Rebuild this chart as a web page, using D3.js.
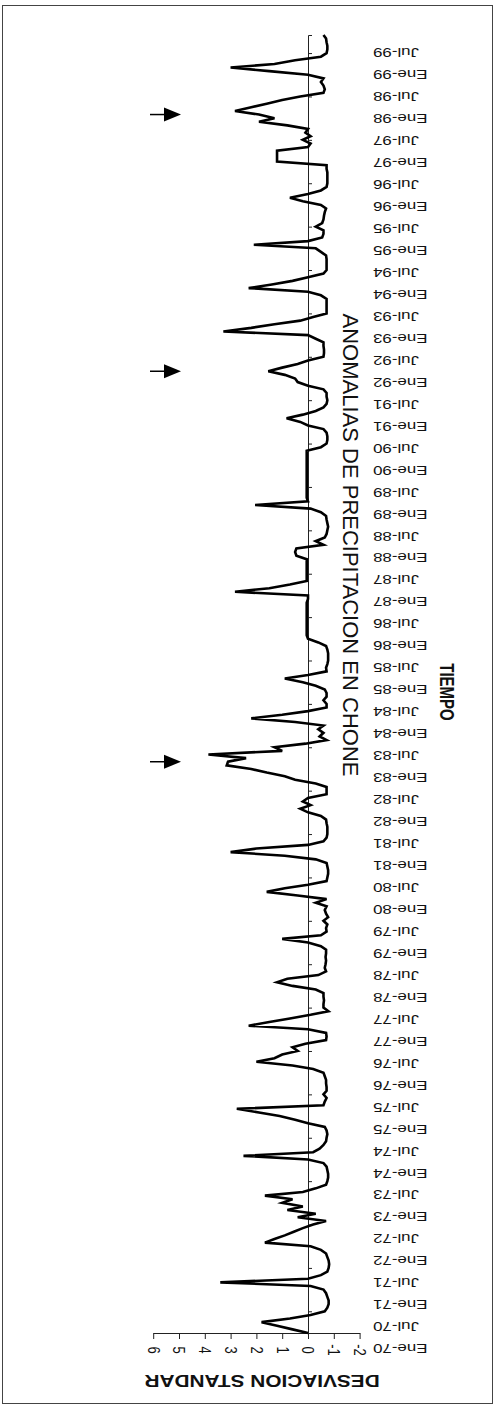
<!DOCTYPE html>
<html>
<head>
<meta charset="utf-8">
<style>
body { margin: 0; background: #fff; }
text { font-family: "Liberation Sans", Arial, sans-serif; fill: #111; }
.axis path, .axis line { stroke: #222; }
</style>
<title>Anomalias de precipitacion en Chone</title>
</head>
<body>
<svg width="495" height="1408"></svg>
<script src="https://cdn.jsdelivr.net/npm/d3@7"></script>
<script>
// desviaciones estandar mensuales, Ene-1970 .. Dic-1999 (12 por fila)
var anomalia = [
  0.0, 0.6, 1.2, 1.8, 0.7, -0.1, -0.65, -0.75, -0.8, -0.8, -0.75, -0.7,        // 1970
  -0.6, -0.1, 3.4, 0.0, -0.5, -0.75, -0.8, -0.82, -0.8, -0.75, -0.7, -0.5,     // 1971
  -0.1, 1.67, 1.3, 0.9, 0.55, 0.2, -0.2, -0.7, 0.4, -0.3, 0.8, 0.2,            // 1972
  1.0, 0.6, 1.67, 0.2, -0.3, -0.7, -0.75, -0.78, -0.78, -0.75, -0.72, -0.6,    // 1973
  0.0, 2.5, -0.2, -0.45, -0.6, -0.7, -0.72, -0.75, -0.72, -0.65, 0.0, 0.5,     // 1974
  1.1, 1.9, 2.76, -0.6, -0.65, -0.72, -0.6, -0.72, -0.72, -0.7, -0.7, -0.65,   // 1975
  -0.6, -0.2, 0.6, 2.0, 1.3, 1.0, 0.4, 0.6, 0.1, -0.7, -0.72, -0.7,            // 1976
  0.0, 2.3, 1.5, 0.7, -0.1, -0.79, -0.6, -0.6, -0.62, -0.6, -0.6, -0.3,        // 1977
  0.6, 1.2, 0.8, -0.4, -0.7, -0.65, -0.68, -0.7, -0.68, -0.7, -0.7, -0.5,      // 1978
  0.0, 1.0, -0.5, -0.72, -0.7, -0.75, -0.6, -0.78, -0.7, -0.65, -0.72, -0.3,   // 1979
  -0.72, 0.4, 1.6, 0.9, 0.0, -0.72, -0.75, -0.78, -0.78, -0.75, -0.72, -0.3,   // 1980
  0.9, 3.0, 2.0, 0.0, -0.6, -0.72, -0.75, -0.75, -0.75, -0.72, -0.7, -0.5,     // 1981
  0.0, 0.3, -0.1, 0.2, 0.0, -0.72, -0.72, -0.72, -0.3, 0.5, 0.9, 1.6,          // 1982
  2.2, 3.15, 3.1, 2.4, 3.86, 1.0, 1.3, 0.1, -0.72, -0.45, -0.6, -0.4,          // 1983
  -0.6, 0.5, 2.2, 1.0, 0.0, -0.72, -0.72, -0.6, -0.72, -0.72, -0.65, -0.3,     // 1984
  0.2, 0.9, 0.0, -0.72, -0.7, -0.75, -0.78, -0.78, -0.78, -0.75, -0.7, -0.4,   // 1985
  0.0, 0.05, 0.05, 0.05, 0.05, 0.05, 0.05, 0.05, 0.05, 0.05, 0.05, 0.0,        // 1986
  0.0, 2.83, 1.5, 0.7, 0.05, 0.05, 0.05, 0.05, 0.05, 0.05, 0.05, 0.45,         // 1987
  0.5, 0.45, -0.6, -0.3, -0.65, -0.72, -0.75, -0.78, -0.75, -0.72, -0.7, -0.5, // 1988
  -0.1, 2.05, 0.0, 0.05, 0.05, 0.05, 0.05, 0.05, 0.05, 0.05, 0.05, 0.05,       // 1989
  0.05, 0.05, 0.05, 0.05, 0.05, -0.5, -0.72, -0.75, -0.75, -0.72, -0.6, 0.0,   // 1990
  0.3, 0.83, 0.2, -0.3, -0.6, -0.72, -0.75, -0.72, -0.72, -0.6, 0.0, 0.4,      // 1991
  0.5, 0.9, 1.54, 1.0, 0.4, 0.0, -0.6, -0.62, -0.62, -0.6, -0.6, -0.3,         // 1992
  0.0, 3.28, 2.2, 1.3, 0.3, -0.2, -0.72, -0.72, -0.72, -0.72, -0.72, -0.5,     // 1993
  0.0, 2.3, 1.4, 0.6, 0.0, -0.6, -0.72, -0.72, -0.72, -0.72, -0.7, -0.5,       // 1994
  -0.3, 2.1, 0.0, -0.55, -0.6, -0.6, -0.3, -0.55, -0.6, -0.62, -0.65, -0.7,    // 1995
  -0.5, 0.2, 0.7, 0.0, -0.5, -0.72, -0.75, -0.75, -0.75, -0.75, -0.72, -0.72,  // 1996
  1.2, 1.2, 1.2, 1.2, 0.0, -0.1, 0.2, -0.1, 0.1, 0.0, 0.8, 1.9,                // 1997
  1.3, 1.9, 2.83, 2.2, 1.6, 1.0, 0.3, -0.6, -0.65, -0.6, -0.5, -0.6,           // 1998
  0.0, 1.5, 3.0, 1.3, 0.5, -0.5, -0.72, -0.75, -0.75, -0.72, -0.7, -0.6        // 1999
];

var etiquetas = [
  "Ene-70","Jul-70","Ene-71","Jul-71","Ene-72","Jul-72","Ene-73","Jul-73",
  "Ene-74","Jul-74","Ene-75","Jul-75","Ene-76","Jul-76","Ene-77","Jul-77",
  "Ene-78","Jul-78","Ene-79","Jul-79","Ene-80","Jul-80","Ene-81","Jul-81",
  "Ene-82","Jul-82","Ene-83","Jul-83","Ene-84","Jul-84","Ene-85","Jul-85",
  "Ene-86","Jul-86","Ene-87","Jul-87","Ene-88","Jul-88","Ene-89","Jul-89",
  "Ene-90","Jul-90","Ene-91","Jul-91","Ene-92","Jul-92","Ene-93","Jul-93",
  "Ene-94","Jul-94","Ene-95","Jul-95","Ene-96","Jul-96","Ene-97","Jul-97",
  "Ene-98","Jul-98","Ene-99","Jul-99"
];

var ticksValor = [6, 5, 4, 3, 2, 1, 0, -1, -2];

// meses (indice desde Ene-70) señalados con flecha
var flechas = [158, 266, 337];

var svg = d3.select("svg");

// el grafico esta girado: el tiempo sube, el valor crece hacia la izquierda
var t = d3.scaleLinear().domain([0, anomalia.length - 1]).range([1333, 35]);
var v = d3.scaleLinear().domain([-2, 6]).range([359.6, 153.2]);
var lab = d3.scalePoint().domain(etiquetas).range([1349, 53]);

// marco
svg.append("rect")
    .attr("x", 2.5).attr("y", 5.5)
    .attr("width", 490).attr("height", 1398)
    .attr("fill", "none").attr("stroke", "#444").attr("stroke-width", 1);

// eje de valores (abajo)
var ejeV = svg.append("g")
    .attr("class", "axis")
    .attr("transform", "translate(0,1333)")
    .call(d3.axisBottom(v).tickValues(ticksValor).tickSize(6).tickSizeOuter(0));
ejeV.select(".domain").attr("stroke-width", 1.2);
ejeV.selectAll(".tick text")
    .attr("y", 0).attr("dy", null)
    .attr("text-anchor", "middle")
    .attr("dominant-baseline", "central")
    .attr("transform", "translate(0,17) rotate(90) scale(1,1.3)")
    .style("font-size", "13px")
    .text(function(d) { return String(d); });

// eje del tiempo (linea en el cero)
var julios = d3.range(6, anomalia.length, 12);
var ejeT = svg.append("g")
    .attr("class", "axis")
    .attr("transform", "translate(" + v(0) + ",0)")
    .call(d3.axisRight(t).tickValues(julios).tickSize(4).tickSizeOuter(4).tickFormat(""));
ejeT.select(".domain").attr("stroke-width", 1);

// etiquetas de fecha, giradas 180
svg.append("g").selectAll("text")
  .data(etiquetas)
  .enter().append("text")
    .attr("text-anchor", "end")
    .attr("dominant-baseline", "central")
    .attr("transform", function(d) { return "translate(373," + lab(d) + ") rotate(180) scale(1.3,1)"; })
    .style("font-size", "13px")
    .text(function(d) { return d; });

// serie
var linea = d3.line()
    .x(function(d) { return v(d); })
    .y(function(d, i) { return t(i); });

svg.append("path")
    .datum(anomalia)
    .attr("fill", "none")
    .attr("stroke", "#000")
    .attr("stroke-width", 2.6)
    .attr("stroke-linejoin", "miter")
    .attr("d", linea);

// flechas
var fl = svg.append("g").selectAll("g")
  .data(flechas)
  .enter().append("g")
    .attr("transform", function(d) { return "translate(0," + t(d) + ")"; });
fl.append("line")
    .attr("x1", 150).attr("x2", 166)
    .attr("stroke", "#000").attr("stroke-width", 1.5);
fl.append("path")
    .attr("d", "M164,-7L181,0L164,7Z")
    .attr("fill", "#000");

// titulos
svg.append("text")
    .attr("transform", "translate(350,545) rotate(90)")
    .attr("text-anchor", "middle")
    .attr("dominant-baseline", "central")
    .style("font-size", "22px")
    .text("ANOMALIAS DE PRECIPITACION EN CHONE");

svg.append("text")
    .attr("transform", "translate(447,692) rotate(90) scale(1,1.3)")
    .attr("text-anchor", "middle")
    .attr("dominant-baseline", "central")
    .style("font-size", "15px").style("font-weight", "bold")
    .text("TIEMPO");

svg.append("text")
    .attr("transform", "translate(262,1381) rotate(180) scale(1.3,1)")
    .attr("text-anchor", "middle")
    .attr("dominant-baseline", "central")
    .style("font-size", "16px").style("font-weight", "bold")
    .text("DESVIACION STANDAR");
</script>
</body>
</html>
